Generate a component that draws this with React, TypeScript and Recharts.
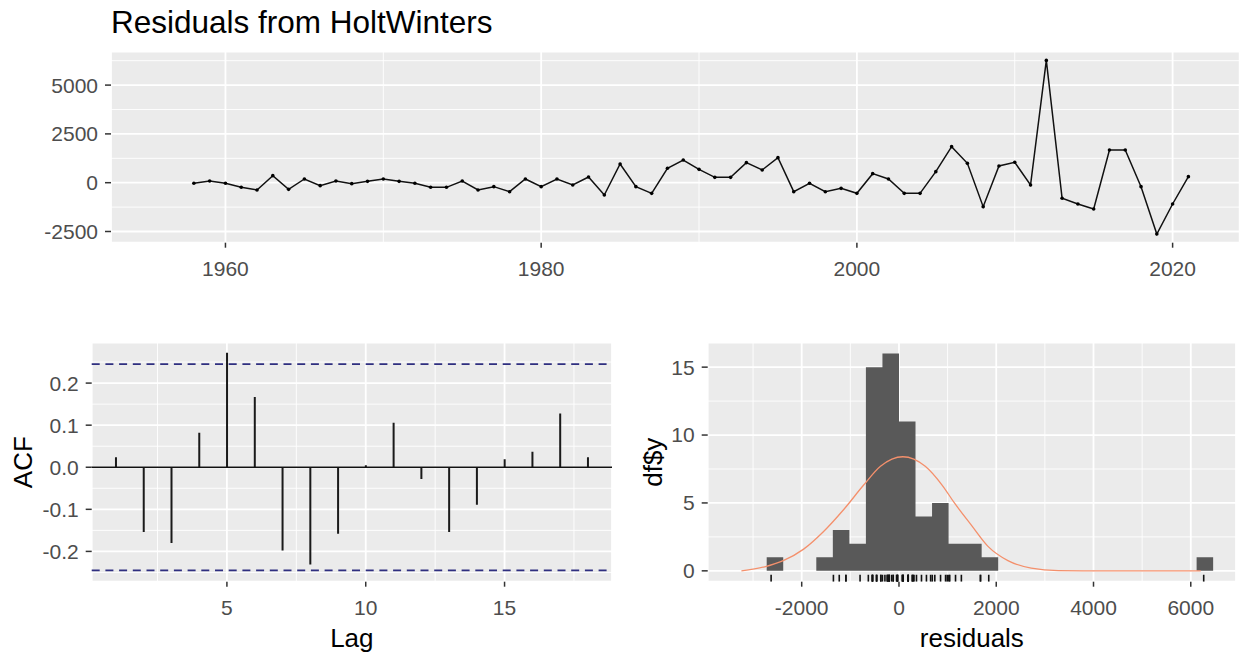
import React from 'react';
import {
  ComposedChart,
  LineChart,
  Line,
  Area,
  Bar,
  Scatter,
  XAxis,
  YAxis,
  CartesianGrid,
  ReferenceLine,
} from 'recharts';

// ---------- Top panel: residuals over time ----------
const years = [
  1958, 1959, 1960, 1961, 1962, 1963, 1964, 1965, 1966, 1967, 1968, 1969, 1970, 1971, 1972, 1973,
  1974, 1975, 1976, 1977, 1978, 1979, 1980, 1981, 1982, 1983, 1984, 1985, 1986, 1987, 1988, 1989,
  1990, 1991, 1992, 1993, 1994, 1995, 1996, 1997, 1998, 1999, 2000, 2001, 2002, 2003, 2004, 2005,
  2006, 2007, 2008, 2009, 2010, 2011, 2012, 2013, 2014, 2015, 2016, 2017, 2018, 2019, 2020, 2021,
];
const residuals = [
  -30, 87, -32, -237, -374, 360, -340, 190, -152, 87, -50, 70, 190, 70, -32, -237,
  -237, 87, -374, -203, -460, 190, -203, 190, -118, 292, -630, 958, -203, -545, 737, 1163,
  685, 275, 275, 1026, 651, 1283, -460, -32, -460, -289, -545, 463, 190, -545, -545, 565,
  1846, 992, -1228, 855, 1044, -118, 6266, -800, -1091, -1348, 1676, 1676, -203, -2629, -1091, 309,
];
const yearTicks = [1960, 1980, 2000, 2020];
const yearMinor = [1970, 1990, 2010];
const residTicks = [-2500, 0, 2500, 5000];
const residMinor = [-1250, 1250, 3750, 6250];

// ---------- Bottom-left: ACF ----------
const lags = [1, 2, 3, 4, 5, 6, 7, 8, 9, 10, 11, 12, 13, 14, 15, 16, 17, 18];
const acfValues = [
  0.024, -0.154, -0.18, 0.082, 0.272, 0.167, -0.198, -0.231, -0.158, 0.005, 0.106, -0.028,
  -0.154, -0.089, 0.019, 0.037, 0.128, 0.024,
];
const acfLimit = 0.245;
const lagTicks = [5, 10, 15];
const lagMinor = [2.5, 7.5, 12.5, 17.5];
const acfTicks = [-0.2, -0.1, 0, 0.1, 0.2];
const acfMinor = [-0.25, -0.15, -0.05, 0.05, 0.15, 0.25];

// ---------- Bottom-right: histogram ----------
const binEdges = [
  -2720, -2380, -2040, -1700, -1360, -1020, -680, -340, 0, 340, 680, 1020, 1360, 1700, 2040,
  2380, 2720, 3060, 3400, 3740, 4080, 4420, 4760, 5100, 5440, 5780, 6120, 6460,
];
const binCounts = [1, 0, 0, 1, 3, 2, 15, 16, 11, 4, 5, 2, 2, 1, 0, 0, 0, 0, 0, 0, 0, 0, 0, 0, 0, 0, 1];
const curveX = [
  -3240, -2760, -2380, -1960, -1550, -1140, -730, -380, 80, 540, 890, 1140, 1480, 1830, 2240,
  2720, 3280, 4000, 5000, 6205,
];
const curveY = [
  0, 0.3, 0.75, 1.6, 2.9, 4.5, 6.3, 7.7, 8.4, 7.7, 6.3, 5.0, 3.4, 1.8, 0.75,
  0.2, 0.02, 0, 0, 0,
];
const histXTicks = [-2000, 0, 2000, 4000, 6000];
const histXMinor = [-3000, -1000, 1000, 3000, 5000];
const histYTicks = [0, 5, 10, 15];
const histYMinor = [2.5, 7.5, 12.5];

// ---------- derived tables ----------
const topRows = years.map((year, i) => ({ year, resid: residuals[i] }));
const acfRows = lags.map((lag, i) => ({ lag, acf: acfValues[i] }));
const histRows = binEdges.map((x, i) => ({
  x,
  count: i < binCounts.length ? binCounts[i] : binCounts[binCounts.length - 1],
}));
const curveRows = curveX.map((x, i) => ({ x, density: curveY[i] }));
const rugRows = residuals.map((r) => ({ x: r, y: -0.8 }));

const FONT = '"Liberation Sans", Arial, Helvetica, sans-serif';
const PANEL = '#EBEBEB';
const tickStyle = { fill: '#4D4D4D', fontSize: 21, fontFamily: FONT };
const tickLine = { stroke: '#333333', strokeWidth: 1.5 };

const VTitle = (props: any) => {
  const { viewBox, value, px } = props;
  const cx = viewBox.x + px;
  const cy = viewBox.y + viewBox.height / 2;
  return (
    <text
      x={cx}
      y={cy}
      transform={`rotate(-90 ${cx} ${cy})`}
      textAnchor="middle"
      dominantBaseline="central"
      fill="#000"
      fontSize={26}
      fontFamily={FONT}
    >
      {value}
    </text>
  );
};

const HTitle = (props: any) => {
  const { viewBox, value, py } = props;
  const cx = viewBox.x + viewBox.width / 2;
  return (
    <text x={cx} y={viewBox.y + py} textAnchor="middle" fill="#000" fontSize={26} fontFamily={FONT}>
      {value}
    </text>
  );
};

const RugTick = (props: any) => {
  const { cx, cy } = props;
  return <line x1={cx} x2={cx} y1={cy} y2={cy - 7} stroke="#111" strokeWidth={1.6} />;
};

export default function App() {
  return (
    <div
      style={{
        position: 'absolute',
        left: 0,
        top: 0,
        width: 1242,
        height: 659,
        background: '#FFFFFF',
        overflow: 'hidden',
        fontFamily: FONT,
      }}
    >
      <div
        style={{
          position: 'absolute',
          left: 111,
          top: 6,
          fontSize: 31.5,
          lineHeight: '32px',
          color: '#000',
          fontFamily: FONT,
          whiteSpace: 'nowrap',
        }}
      >
        Residuals from HoltWinters
      </div>

      {/* Top panel */}
      <div style={{ position: 'absolute', left: 0, top: 0 }}>
        <LineChart
          width={1242}
          height={295}
          data={topRows}
          margin={{ top: 51.7, right: 2.3, bottom: 12.3, left: 0 }}
        >
          <CartesianGrid fill={PANEL} fillOpacity={1} stroke="#FFFFFF" strokeWidth={1.8} />
          <CartesianGrid
            stroke="#FFFFFF"
            strokeWidth={0.9}
            horizontalValues={residMinor}
            verticalValues={yearMinor}
          />
          <XAxis
            dataKey="year"
            type="number"
            domain={[1952.75, 2024.25]}
            ticks={yearTicks}
            allowDataOverflow
            axisLine={false}
            tickLine={tickLine}
            tickSize={5}
            tickMargin={13}
            tick={tickStyle}
            height={40}
            interval={0}
          />
          <YAxis
            type="number"
            domain={[-3074, 6711]}
            ticks={residTicks}
            allowDataOverflow
            axisLine={false}
            tickLine={tickLine}
            tickSize={6}
            tickMargin={7}
            tick={tickStyle}
            width={111}
            interval={0}
          />
          <Line
            dataKey="resid"
            type="linear"
            stroke="#111111"
            strokeWidth={1.5}
            dot={{ r: 1.8, fill: '#000', stroke: 'none' }}
            isAnimationActive={false}
          />
        </LineChart>
      </div>

      {/* ACF panel */}
      <div style={{ position: 'absolute', left: 0, top: 300 }}>
        <ComposedChart
          width={640}
          height={359}
          data={acfRows}
          margin={{ top: 42.7, right: 28, bottom: 7.3, left: 0 }}
        >
          <CartesianGrid fill={PANEL} fillOpacity={1} stroke="#FFFFFF" strokeWidth={1.8} />
          <CartesianGrid
            stroke="#FFFFFF"
            strokeWidth={0.9}
            horizontalValues={acfMinor}
            verticalValues={lagMinor}
          />
          <XAxis
            dataKey="lag"
            type="number"
            domain={[0.13, 18.87]}
            ticks={lagTicks}
            allowDataOverflow
            axisLine={false}
            tickLine={tickLine}
            tickSize={5}
            tickMargin={13}
            tick={tickStyle}
            height={70}
            interval={0}
            label={<HTitle value="Lag" py={65.3} />}
          />
          <YAxis
            type="number"
            domain={[-0.272, 0.296]}
            ticks={acfTicks}
            allowDataOverflow
            axisLine={false}
            tickLine={tickLine}
            tickSize={6}
            tickMargin={7}
            tick={tickStyle}
            tickFormatter={(v: number) => v.toFixed(1)}
            width={91.7}
            interval={0}
            label={<VTitle value="ACF" px={23.3} />}
          />
          <ReferenceLine y={0} stroke="#111" strokeWidth={1.4} />
          <ReferenceLine y={acfLimit} stroke="#2f2f80" strokeWidth={1.6} strokeDasharray="8 5.7" />
          <ReferenceLine y={-acfLimit} stroke="#2f2f80" strokeWidth={1.6} strokeDasharray="8 5.7" />
          <Bar dataKey="acf" barSize={2} fill="#1a1a1a" isAnimationActive={false} />
        </ComposedChart>
      </div>

      {/* Histogram panel */}
      <div style={{ position: 'absolute', left: 620, top: 300 }}>
        <ComposedChart
          width={622}
          height={359}
          margin={{ top: 42.7, right: 6, bottom: 7.3, left: 0 }}
        >
          <CartesianGrid fill={PANEL} fillOpacity={1} stroke="#FFFFFF" strokeWidth={1.8} />
          <CartesianGrid
            stroke="#FFFFFF"
            strokeWidth={0.9}
            horizontalValues={histYMinor}
            verticalValues={histXMinor}
          />
          <XAxis
            dataKey="x"
            type="number"
            domain={[-3933, 6930]}
            ticks={histXTicks}
            allowDataOverflow
            axisLine={false}
            tickLine={tickLine}
            tickSize={5}
            tickMargin={13}
            tick={tickStyle}
            height={70}
            interval={0}
            label={<HTitle value="residuals" py={65.3} />}
          />
          <YAxis
            type="number"
            domain={[-0.8, 16.8]}
            ticks={histYTicks}
            allowDataOverflow
            axisLine={false}
            tickLine={tickLine}
            tickSize={6}
            tickMargin={7}
            tick={tickStyle}
            width={87.7}
            interval={0}
            label={<VTitle value="df$y" px={33} />}
          />
          <Area
            data={histRows}
            dataKey="count"
            type="stepAfter"
            stroke="none"
            fill="#595959"
            fillOpacity={1}
            baseValue={0}
            isAnimationActive={false}
          />
          <Line
            data={curveRows}
            dataKey="density"
            type="monotone"
            stroke="#F4906C"
            strokeWidth={1.3}
            dot={false}
            isAnimationActive={false}
          />
          <Scatter data={rugRows} dataKey="y" shape={<RugTick />} isAnimationActive={false} />
        </ComposedChart>
      </div>
    </div>
  );
}
